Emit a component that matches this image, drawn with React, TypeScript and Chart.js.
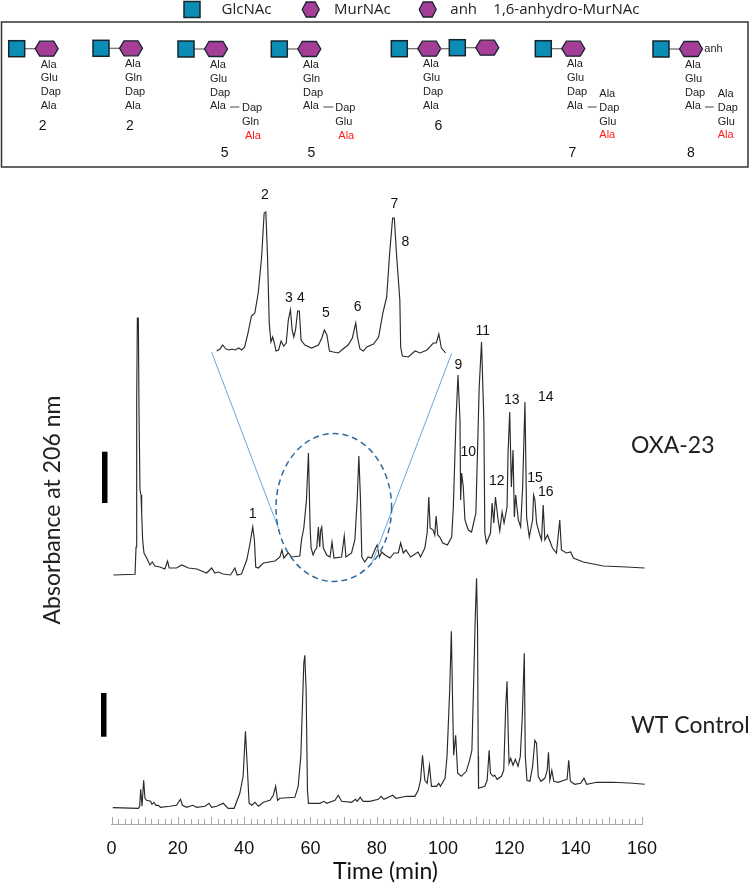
import React, { useEffect, useRef } from "react";
import { Chart, registerables } from "chart.js";

Chart.register(...registerables);

// Chromatogram readings: retention time (min) and absorbance above each trace's own baseline
const oxaTime = [0.6,7.1,7.4,7.6,7.8,8.1,8.3,8.6,8.9,9.1,9.4,9.8,10.6,11.6,12.3,13.1,14.6,16.1,16.9,17.4,19.6,21.2,23.2,25.7,28.7,30.2,31.2,32.2,33.7,35.9,37.2,37.9,39.2,40.8,41.8,42.6,43.1,43.5,44.3,45.8,49.3,50.8,51.4,52,53.3,54.3,56.8,57.3,58,58.8,59.4,59.9,60.2,60.8,61.4,61.9,62.4,62.8,63.1,63.4,63.9,64.9,65.9,66.5,67.1,69.4,70.2,70.7,72.4,73.4,74.1,74.6,75.1,75.5,76.4,77.4,78.4,79.4,80.1,80.8,81.5,82.5,84,85.2,86.5,87.2,88,88.8,90.2,92.5,93.2,94.5,95.2,95.7,96.1,97,97.5,97.9,98.4,99,99.9,101.3,102.6,103.1,103.9,104.5,105.1,105.3,105.6,106.1,106.6,107.6,108.6,109.9,110.9,111.6,112.3,112.6,113.1,114.3,114.8,115.3,115.8,116.6,117.1,117.8,118.4,119.3,119.6,120.1,120.6,121.1,121.5,121.9,122.7,123.4,124,124.7,125.2,126,127,127.3,127.7,128.2,129,129.7,130.2,130.7,131.5,133,134.2,135.2,135.7,137.2,138.5,139.3,142.3,148.3,155.3,160.8];
const oxaValues = [0,0.7,28,175,257,257,162,85,80,62,35,22,17,10,13,9,8,6,14,7,7,10,7,6,2,7,2,3,1,0,7,0,1,15,32,48,35,8,7,12,14,18,25,17,22,18,19,35,47,75,122,48,27,20,25,27,48,28,45,48,27,20,18,33,17,18,39,18,22,35,75,119,75,18,13,18,17,25,30,18,23,20,17,22,22,32,22,25,18,23,18,27,42,78,47,45,40,59,40,38,32,30,38,68,155,200,155,75,102,88,55,45,43,62,188,233,155,42,32,42,72,52,78,55,44,63,52,68,122,163,88,125,58,80,55,48,88,173,58,38,55,80,75,52,42,35,70,35,40,27,22,55,25,22,23,17,13,9,8,7];

const wtTime = [0.4,8.1,8.5,8.8,9.2,9.7,10.1,10.6,11.8,12.2,12.8,13.4,14.1,14.8,17.6,19.6,20.8,21.4,22.7,24.5,25.7,28.2,29.4,30.2,31.7,33.7,35.2,37,38.7,39.7,40.4,40.9,41.5,42.3,43.3,44.3,45.8,47.8,48.8,49.5,50.1,50.8,55.3,56.3,57.1,58,58.3,58.7,59.1,59.4,60.8,62.8,64.1,64.9,67.4,68.4,69.4,72.4,73.6,74.1,75,75.9,77.9,80.5,81.3,82.2,84.8,85.8,89,91.5,92.5,93.2,93.8,94.5,95.2,95.9,96.5,98,98.7,99.2,100.6,101.2,102,102.5,102.9,103.2,103.8,104.4,105.5,107,108,108.7,109.3,109.7,110.1,110.4,110.6,110.7,112.6,113.3,113.9,114.3,115.1,115.6,116.3,117.6,118.3,118.9,119.3,119.7,119.9,120.4,121.1,121.8,122.6,123.3,123.9,124.5,124.8,125.3,126.2,127,127.7,128.2,128.7,129.5,130.7,131.4,131.8,132.2,132.8,133.4,134.7,136.5,137.4,137.9,138.4,139.7,141.5,142.5,143.3,146.3,151.3,157.3,160.8];
const wtValues = [0.7,0,2,19,2,28,10,8,7,4,6,3,3,1,2,3,9,3,1,3,1,2,5,1,2,5,0,0,15,32,77,45,5,3,6,2,6,8,13,22,8,10,11,22,52,145,153,118,18,5,5,5,7,5,8,13,7,6,9,7,11,7,7,9,12,9,13,10,12,12,18,28,53,28,25,43,22,22,25,22,30,52,118,177,102,53,73,35,32,37,48,58,135,190,230,180,52,20,22,28,58,35,32,33,29,32,38,102,127,68,45,50,43,49,42,52,92,155,52,28,27,42,68,65,32,27,30,38,56,28,38,27,26,28,29,48,27,24,25,30,24,26,26,25,24];

const insetTime = [53.8,54.2,54.5,54.9,55.3,55.6,56,56.4,56.75,57.1,57.5,57.9,58.3,58.7,59.1,59.4,59.6,59.8,60,60.2,60.4,60.6,60.8,61.1,61.4,61.7,62,62.25,62.5,62.7,62.9,63.1,63.35,63.55,63.75,64.2,65,65.8,66.2,66.5,66.8,67.1,67.55,68.15,68.7,69.3,69.8,70.2,70.4,70.7,71.1,71.5,72.3,72.9,73.4,73.85,74.2,74.55,74.75,75,75.4,75.5,75.7,76.4,77.2,77.8,78.6,79.35,79.7,80,80.3,80.8];
const insetValues = [7,9,13,9,8,9,8,10,8,11,25,42,45,65,101,145,146,101,35,16,21,15,7,8,17,12,15,38,48,28,21,28,47,47,18,13,10,13,20,28,23,7,6,5,9,13,20,35,21,9,7,11,14,21,45,61,105,140,140,105,58,11,2,1,7,5,8,15,15,24,10,5];

const timeTicks = { min: 0, max: 160, step: 2, labelEvery: 20, majorEvery: 10 };
const legendNames = ["GlcNAc", "MurNAc", "anh", "1,6-anhydro-MurNAc"];
const stemResidues = [
  ["Ala", "Glu", "Dap", "Ala"],
  ["Ala", "Gln", "Dap", "Ala"],
  ["Ala", "Glu", "Dap", "Ala"],
  ["Ala", "Gln", "Dap", "Ala"],
  ["Ala", "Glu", "Dap", "Ala"],
  ["Ala", "Glu", "Dap", "Ala"],
  ["Ala", "Glu", "Dap", "Ala"],
];
const crossResidues = [[], [], ["Dap", "Gln", "Ala"], ["Dap", "Glu", "Ala"], [], ["Ala", "Dap", "Glu", "Ala"], ["Ala", "Dap", "Glu", "Ala"]];
const structureLabels = ["2", "2", "5", "5", "6", "7", "8"];
const peakLabels = ["1", "2", "3", "4", "5", "6", "7", "8", "9", "10", "11", "12", "13", "14", "15", "16"];

// Layout (pixels on the page)
const W = 750, H = 886;
const AX_LEFT = 111.5, AX_RIGHT = 642, AX_BOTTOM = 824;
const OXA_BASE = AX_BOTTOM - 575, WT_BASE = AX_BOTTOM - 808.3, INSET_BASE = AX_BOTTOM - 358;
const INSET_PX_PER_MIN = 8.48, INSET_REF_PX = 265, INSET_REF_T = 59.5;
const structurePos = [
  { sq: 16.7, y: 48.7, tx: 40.7, ty: 64.5, lx: 42.7, ly: 126 },
  { sq: 101, y: 48.3, tx: 125, ty: 64.3, lx: 130, ly: 126 },
  { sq: 186, y: 49, tx: 210, ty: 65, lx: 224.7, ly: 152.7, cx: 242, cy: 108, dash: [230, 239.3] },
  { sq: 279.3, y: 49, tx: 303, ty: 65, lx: 311.3, ly: 152.7, cx: 335.3, cy: 108, dash: [323.3, 333.3] },
  { sq: 399.3, y: 48.7, tx: 423, ty: 64.3, lx: 438.3, ly: 126 },
  { sq: 543.3, y: 48.7, tx: 567, ty: 64.3, lx: 572.3, ly: 152.7, cx: 599.3, cy: 94, dash: [587.7, 596.7] },
  { sq: 661, y: 49, tx: 685, ty: 65, lx: 691, ly: 152.7, cx: 717.7, cy: 94, dash: [705, 713.7] },
];
const peakPos = [[252.7,514],[265,195],[289,297.7],[301,297.7],[326,312.7],[357.7,307.3],[394.3,204],[405.3,242.3],[458.3,365],[468.3,451.7],[482.7,331],[496.7,480.7],[511.7,400],[545.7,397.3],[535,478.3],[545.7,491.7]];

const BLUE = "#0b8db5", PURPLE = "#a43e97", EDGE = "#16262e", INK = "#222222";
const SANS = '"Liberation Sans", Arial, sans-serif';
const OPEN = '"Open Sans", sans-serif';
const LATO = 'Lato, sans-serif';

function pair(t: number[], v: number[], base: number) {
  return t.map((x, i) => ({ x, y: v[i] + base }));
}

function square(c: CanvasRenderingContext2D, x: number, y: number) {
  c.fillStyle = BLUE; c.strokeStyle = EDGE; c.lineWidth = 1.5;
  c.fillRect(x - 8, y - 8, 16, 16); c.strokeRect(x - 8, y - 8, 16, 16);
}
function hexagon(c: CanvasRenderingContext2D, x: number, y: number, hw: number, inset: number) {
  c.fillStyle = PURPLE; c.strokeStyle = EDGE; c.lineWidth = 1.3;
  c.beginPath();
  c.moveTo(x - hw, y); c.lineTo(x - hw + inset, y - 7.5); c.lineTo(x + hw - inset, y - 7.5);
  c.lineTo(x + hw, y); c.lineTo(x + hw - inset, y + 7.5); c.lineTo(x - hw + inset, y + 7.5);
  c.closePath(); c.fill(); c.stroke();
}
function line(c: CanvasRenderingContext2D, x1: number, y1: number, x2: number, y2: number) {
  c.beginPath(); c.moveTo(x1, y1); c.lineTo(x2, y2); c.stroke();
}
function label(c: CanvasRenderingContext2D, s: string, x: number, y: number, font: string, align: CanvasTextAlign = "left", color = INK) {
  c.font = font; c.fillStyle = color; c.textAlign = align; c.textBaseline = "middle";
  c.fillText(s, x, y);
}
function glycan(c: CanvasRenderingContext2D, sqX: number, y: number) {
  c.strokeStyle = "#666"; c.lineWidth = 1.2;
  line(c, sqX + 8, y, sqX + 20, y);
  square(c, sqX, y);
  hexagon(c, sqX + 30, y, 11.5, 4.5);
}

const figurePlugin = {
  id: "figure",
  afterDatasetsDraw(chart: any) {
    const c: CanvasRenderingContext2D = chart.ctx;
    const xs = chart.scales.x;
    c.save();

    // axis ticks point upward from the baseline
    c.strokeStyle = "#a8a8a8"; c.lineWidth = 1;
    xs.ticks.forEach((t: any) => {
      const px = Math.round(xs.getPixelForValue(t.value)) + 0.5;
      const len = t.value % timeTicks.majorEvery === 0 ? 7 : 5;
      line(c, px, AX_BOTTOM, px, AX_BOTTOM - len);
    });

    // top legend
    square(c, 192, 9.5);
    hexagon(c, 310.7, 9.5, 8.5, 4);
    hexagon(c, 427.7, 9.5, 8.5, 4);
    const legendFont = `15px ${OPEN}`;
    label(c, legendNames[0], 221.5, 10, legendFont);
    label(c, legendNames[1], 334, 10, legendFont);
    label(c, legendNames[2], 450.3, 10, legendFont);
    label(c, legendNames[3], 493.3, 10, legendFont);

    // structure panel
    c.strokeStyle = "#333"; c.lineWidth = 1.5;
    c.strokeRect(1.5, 22, 746.5, 145);
    structurePos.forEach((p: any, i) => {
      glycan(c, p.sq, p.y);
      if (i === 4) {
        c.strokeStyle = "#666"; c.lineWidth = 1.2;
        line(c, p.sq + 41, p.y, p.sq + 50, p.y);
        glycan(c, p.sq + 58, p.y - 1);
      }
      const f = `11px ${SANS}`;
      stemResidues[i].forEach((r, k) => label(c, r, p.tx, p.ty + k * 13.8, f));
      const cross = crossResidues[i];
      cross.forEach((r, k) => {
        const red = k === cross.length - 1;
        label(c, r, p.cx + (red && cross.length === 3 ? 3 : 0), p.cy + k * 13.8, f, "left", red ? "#ff1a1a" : INK);
      });
      if (p.dash) {
        c.strokeStyle = "#444"; c.lineWidth = 1;
        line(c, p.dash[0], 107, p.dash[1], 107);
      }
      label(c, structureLabels[i], p.lx, p.ly, `14px ${SANS}`, "center", "#111");
    });
    label(c, "anh", 704.3, 49, `11px ${SANS}`);

    // inset guide lines and dashed ellipse
    c.strokeStyle = "#6aa6de"; c.lineWidth = 1;
    line(c, 211.7, 352.3, 278.3, 528);
    line(c, 451.7, 353.3, 372, 563);
    c.strokeStyle = "#2f6a9f"; c.lineWidth = 1.5; c.setLineDash([6, 4]);
    c.beginPath(); c.ellipse(333.8, 507.5, 57.8, 74, 0, 0, Math.PI * 2); c.stroke();
    c.setLineDash([]);

    // scale bars
    c.fillStyle = "#000";
    c.fillRect(102, 451.7, 5.5, 51.3);
    c.fillRect(101, 693, 5.5, 43.7);

    // peak numbers and text
    peakLabels.forEach((s, i) => label(c, s, peakPos[i][0], peakPos[i][1], `14px ${SANS}`, "center", "#111"));
    label(c, "OXA-23", 631, 446, `23px ${LATO}`);
    label(c, "WT Control", 631, 726, `23px ${LATO}`);
    label(c, "Time (min)", 385.5, 872, `23px ${LATO}`, "center", "#111");

    c.translate(53, 510);
    c.rotate(-Math.PI / 2);
    label(c, "Absorbance at 206 nm", 0, 0, `23px ${LATO}`, "center");
    c.restore();
  },
};

export default function App() {
  const ref = useRef<HTMLCanvasElement>(null);
  useEffect(() => {
    document.body.style.margin = "0";
    const traceStyle = {
      showLine: true, pointRadius: 0, borderColor: "#2a2a2a", borderWidth: 1.15, tension: 0, clip: false as const,
    };
    const chart = new Chart(ref.current!, {
      type: "scatter",
      data: {
        datasets: [
          { ...traceStyle, label: "OXA-23", data: pair(oxaTime, oxaValues, OXA_BASE) },
          { ...traceStyle, label: "WT Control", data: pair(wtTime, wtValues, WT_BASE) },
          { ...traceStyle, label: "Inset", xAxisID: "xInset", data: pair(insetTime, insetValues, INSET_BASE) },
        ],
      },
      options: {
        responsive: false,
        animation: false,
        layout: { padding: { left: AX_LEFT, right: W - AX_RIGHT, top: 0, bottom: 0 } },
        plugins: { legend: { display: false }, tooltip: { enabled: false } },
        events: [],
        scales: {
          x: {
            type: "linear",
            position: "bottom",
            min: timeTicks.min,
            max: timeTicks.max,
            afterFit: (s: any) => { s.height = H - AX_BOTTOM; },
            afterBuildTicks: (s: any) => {
              const out = [];
              for (let v = timeTicks.min; v <= timeTicks.max; v += timeTicks.step) out.push({ value: v });
              s.ticks = out;
            },
            grid: { display: false, drawTicks: false },
            border: { display: true, color: "#a8a8a8" },
            ticks: {
              autoSkip: false,
              maxRotation: 0,
              padding: 14,
              color: "#111",
              font: { family: "Liberation Sans", size: 18 },
              callback: (v: any) => (Number(v) % timeTicks.labelEvery === 0 ? String(v) : ""),
            },
          },
          xInset: {
            type: "linear",
            axis: "x",
            display: false,
            min: INSET_REF_T + (AX_LEFT - INSET_REF_PX) / INSET_PX_PER_MIN,
            max: INSET_REF_T + (AX_RIGHT - INSET_REF_PX) / INSET_PX_PER_MIN,
          },
          y: { type: "linear", display: false, min: 0, max: AX_BOTTOM },
        },
      } as any,
      plugins: [figurePlugin],
    });
    return () => chart.destroy();
  }, []);
  return (
    <div style={{ background: "#fff", width: W, height: H }}>
      <canvas ref={ref} width={W} height={H} style={{ display: "block", width: W, height: H }} />
    </div>
  );
}
